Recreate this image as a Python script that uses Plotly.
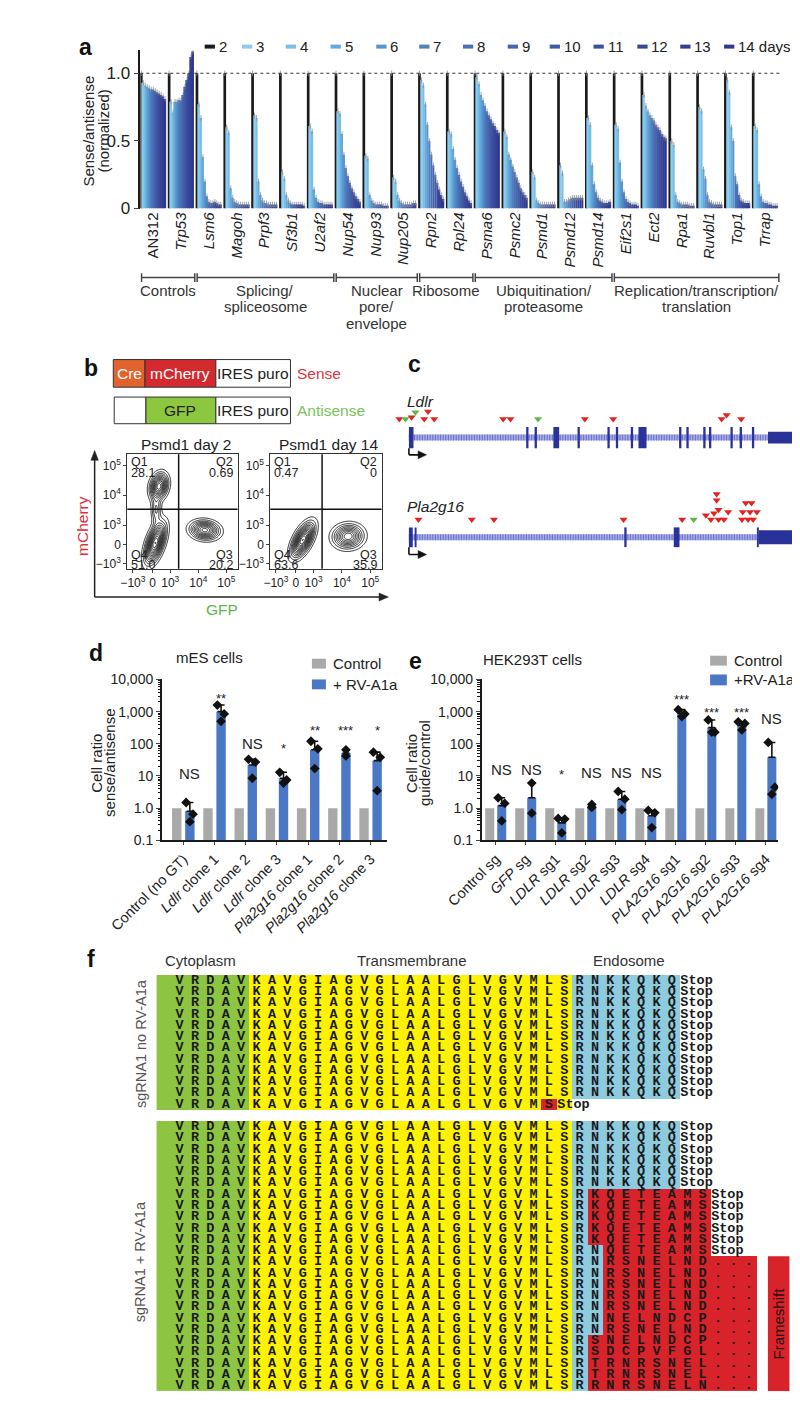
import numpy as np
import plotly.graph_objects as go

W, H = 800, 1411
def X(px): return px / W
def Y(py): return 1 - py / H

SANS = "Liberation Sans, Arial, Helvetica, sans-serif"
MONO = "Liberation Mono, Courier New, monospace"
INK = "#222222"

# ================= Panel a data =================
days_a = [2, 3, 4, 5, 6, 7, 8, 9, 10, 11, 12, 13, 14]
day_colors = ["#1a1a1a", "#8fcdee", "#76bfe9", "#62aadd", "#5894cd", "#4f80c0",
              "#4a71b6", "#4565ae", "#405aa6", "#3b4f9f", "#374699", "#333f93", "#2f388d"]
genes_a = ["AN312", "Trp53", "Lsm6", "Magoh", "Prpf3", "Sf3b1", "U2af2", "Nup54", "Nup93",
           "Nup205", "Rpn2", "Rpl24", "Psma6", "Psmc2", "Psmd1", "Psmd12", "Psmd14",
           "Eif2s1", "Ect2", "Rpa1", "Ruvbl1", "Top1", "Trrap"]
AN312  = [1.00, 0.93, 0.91, 0.90, 0.89, 0.88, 0.88, 0.87, 0.86, 0.85, 0.84, 0.83, 0.81]
Trp53  = [1.00, 0.79, 0.71, 0.79, 0.79, 0.80, 0.80, 0.84, 0.90, 0.95, 1.00, 1.12, 1.16]
Lsm6   = [1.00, 0.77, 0.67, 0.38, 0.20, 0.09, 0.05, 0.04, 0.04, 0.05, 0.04, 0.03, 0.03]
Magoh  = [1.00, 0.60, 0.56, 0.15, 0.08, 0.05, 0.04, 0.03, 0.03, 0.03, 0.03, 0.03, 0.03]
Prpf3  = [1.00, 0.69, 0.67, 0.20, 0.10, 0.06, 0.04, 0.04, 0.03, 0.03, 0.03, 0.03, 0.03]
Sf3b1  = [1.00, 0.27, 0.22, 0.10, 0.06, 0.04, 0.03, 0.03, 0.03, 0.03, 0.03, 0.03, 0.02]
U2af2  = [1.00, 0.61, 0.57, 0.14, 0.08, 0.05, 0.04, 0.04, 0.03, 0.03, 0.03, 0.03, 0.03]
Nup54  = [1.00, 0.72, 0.70, 0.55, 0.40, 0.30, 0.24, 0.19, 0.15, 0.12, 0.09, 0.07, 0.05]
Nup93  = [1.00, 0.39, 0.37, 0.10, 0.06, 0.04, 0.03, 0.03, 0.03, 0.03, 0.02, 0.02, 0.02]
Nup205 = [1.00, 0.23, 0.20, 0.10, 0.06, 0.04, 0.03, 0.03, 0.03, 0.03, 0.03, 0.04, 0.04]
Rpn2   = [1.00, 0.95, 0.91, 0.77, 0.62, 0.50, 0.40, 0.32, 0.25, 0.19, 0.14, 0.10, 0.07]
Rpl24  = [1.00, 0.57, 0.55, 0.44, 0.36, 0.30, 0.25, 0.20, 0.16, 0.12, 0.09, 0.06, 0.04]
Psma6  = [1.00, 0.97, 0.92, 0.84, 0.80, 0.76, 0.72, 0.69, 0.66, 0.63, 0.61, 0.58, 0.56]
Psmc2  = [1.00, 0.57, 0.53, 0.40, 0.36, 0.31, 0.27, 0.23, 0.19, 0.15, 0.12, 0.10, 0.08]
Psmd1  = [1.00, 0.27, 0.23, 0.06, 0.04, 0.03, 0.03, 0.03, 0.03, 0.03, 0.03, 0.03, 0.03]
Psmd12 = [1.00, 0.32, 0.26, 0.05, 0.05, 0.06, 0.07, 0.08, 0.08, 0.08, 0.08, 0.08, 0.08]
Psmd14 = [1.00, 0.67, 0.62, 0.32, 0.18, 0.12, 0.08, 0.06, 0.05, 0.04, 0.04, 0.04, 0.05]
Eif2s1 = [1.00, 0.62, 0.59, 0.34, 0.20, 0.12, 0.07, 0.05, 0.04, 0.03, 0.03, 0.03, 0.02]
Ect2   = [1.00, 0.84, 0.76, 0.72, 0.69, 0.67, 0.65, 0.62, 0.60, 0.58, 0.55, 0.53, 0.52]
Rpa1   = [1.00, 0.50, 0.47, 0.10, 0.05, 0.04, 0.03, 0.03, 0.03, 0.03, 0.02, 0.02, 0.02]
Ruvbl1 = [1.00, 0.75, 0.72, 0.29, 0.22, 0.10, 0.05, 0.04, 0.03, 0.03, 0.03, 0.03, 0.03]
Top1   = [1.00, 0.95, 0.86, 0.60, 0.50, 0.24, 0.18, 0.10, 0.06, 0.05, 0.04, 0.04, 0.04]
Trrap  = [1.00, 0.61, 0.58, 0.18, 0.09, 0.05, 0.04, 0.04, 0.03, 0.03, 0.02, 0.02, 0.02]
ratio_a = [AN312, Trp53, Lsm6, Magoh, Prpf3, Sf3b1, U2af2, Nup54, Nup93, Nup205, Rpn2, Rpl24,
           Psma6, Psmc2, Psmd1, Psmd12, Psmd14, Eif2s1, Ect2, Rpa1, Ruvbl1, Top1, Trrap]
err_a = 0.02
group_names_a = [["Controls"], ["Splicing/", "spliceosome"], ["Nuclear", "pore/", "envelope"],
                 ["Ribosome"], ["Ubiquitination/", "proteasome"], ["Replication/transcription/", "translation"]]
group_first_a = [0, 2, 7, 10, 12, 17]
group_last_a = [1, 6, 9, 11, 16, 22]

# ================= Panel b data =================
gate_x, gate_y = 3.3, 3.53
flow_tickvals = [1.67, 2.37, 3.0, 4.0, 5.0]
flow_ticktext = ["\u221210<sup>3</sup>", "0", "10<sup>3</sup>", "10<sup>4</sup>", "10<sup>5</sup>"]
q_day2 = ["28.1", "0.69", "51.0", "20.2"]    # Q1, Q2, Q4, Q3
q_day14 = ["0.47", "0", "63.6", "35.9"]
# populations (centre, spread, correlation, weight)
day2_cx = [2.60, 2.50, 2.47, 4.23]
day2_cy = [4.30, 3.50, 2.40, 2.83]
day2_sx = [0.19, 0.11, 0.22, 0.31]
day2_sy = [0.26, 0.28, 0.40, 0.19]
day2_rho = [0.20, 0.00, 0.55, -0.10]
day2_w = [1.00, 0.35, 1.20, 0.90]
day14_cx = [2.62, 4.22]
day14_cy = [2.50, 2.62]
day14_sx = [0.24, 0.32]
day14_sy = [0.34, 0.24]
day14_rho = [0.60, 0.05]
day14_w = [1.20, 0.85]

# ================= Panel c data =================
ldlr_exon_start = [0.0, 30.6, 32.8, 37.7, 44.0, 51.8, 54.0, 57.9, 59.9, 70.5, 72.4, 76.8, 78.3, 83.9, 86.3, 89.5, 93.7]
ldlr_exon_end   = [1.2, 31.2, 33.4, 39.2, 44.6, 52.4, 54.6, 58.5, 62.0, 71.1, 73.0, 77.4, 78.9, 84.5, 86.9, 90.1, 100.0]
ldlr_site_pos   = [-2.5, -0.9, 0.7, 1.7, 4.0, 5.0, 6.6, 24.6, 26.5, 33.7, 45.9, 53.3, 81.6, 82.9, 86.7]
ldlr_site_level = [0, 0, 0.25, 1, 0, 1.1, 0, 0, 0, 0, 0, 0, 0, 0.6, 0]
ldlr_site_strand = ["s", "a", "s", "a", "s", "s", "s", "s", "s", "a", "s", "s", "s", "s", "s"]
pla_exon_start = [0.0, 1.5, 56.2, 69.1, 90.8, 91.3]
pla_exon_end   = [1.0, 2.0, 56.8, 70.6, 91.3, 100.5]
pla_site_pos   = [2.5, 16.4, 22.2, 56.0, 71.3, 74.3, 77.5, 78.8, 79.6, 80.3, 80.3, 80.8, 80.8, 82.2,
                  83.3, 86.9, 87.1, 87.9, 88.5, 89.0, 89.4, 89.8, 90.8]
pla_site_level = [0, 0, 0, 0, 0, 0, 0.6, 0, 0.9, 3.7, 2.8, 1.4, 0, 0, 1.1, 0, 1.1, 2.4, 0, 1.1, 2.4, 0, 1.1]
pla_site_strand = ["s"] * 5 + ["a"] + ["s"] * 17

# ================= Panel d data =================
d_labels = ["Control (no GT)", "<i>Ldlr</i> clone 1", "<i>Ldlr</i> clone 2", "<i>Ldlr</i> clone 3",
            "<i>Pla2g16</i> clone 1", "<i>Pla2g16</i> clone 2", "<i>Pla2g16</i> clone 3"]
d_control = [1, 1, 1, 1, 1, 1, 1]
d_rv = [0.8, 1000, 22, 8.5, 65, 52, 30]
d_err_top = [1.5, 1600, 33, 13, 120, 65, 55]
d_points = [[1.5, 0.65, 0.38], [1600, 850, 500], [33, 27, 8.5], [13, 7.5, 6],
            [120, 70, 17], [65, 42], [55, 38, 3.5]]
d_sig = ["NS", "**", "NS", "*", "**", "***", "*"]

# ================= Panel e data =================
e_labels = ["Control sg", "<i>GFP</i> sg", "<i>LDLR</i> sg1", "<i>LDLR</i> sg2", "<i>LDLR</i> sg3",
            "<i>LDLR</i> sg4", "<i>PLA2G16</i> sg1", "<i>PLA2G16</i> sg2", "<i>PLA2G16</i> sg3",
            "<i>PLA2G16</i> sg4"]
e_control = [1, 1, 1, 1, 1, 1, 1, 1, 1, 1]
e_rv = [1.2, 2.1, 0.35, 1.15, 1.9, 0.58, 900, 320, 380, 38]
e_err_top = [2.1, 6, 0.48, 1.35, 3.3, 0.85, 1150, 550, 480, 110]
e_points = [[2.1, 1.4, 0.4], [6, 0.7], [0.48, 0.46, 0.17], [1.3, 1.05], [3.3, 1.9, 0.9],
            [0.85, 0.72, 0.25], [1150, 850, 700], [550, 230, 230], [480, 430, 270], [110, 4.5, 2.7]]
e_sig = ["NS", "NS", "*", "NS", "NS", "NS", "***", "***", "***", "NS"]

# ================= Panel f data =================
tm_full = "VRDAVKAVGIAGVGLAALGLVGVMLS"
rows_no_rv = [(tm_full, "RNKKQKQ", "", "Stop")] * 11 + [("VRDAVKAVGIAGVGLAALGLVGVM", "", "S", "Stop")]
rows_rv = ([(tm_full, "RNKKQKQ", "", "Stop")] * 6
           + [(tm_full, "R", "KQETEAMS", "Stop")] * 5
           + [(tm_full, "RN", "QETEAMS", "Stop")]
           + [(tm_full, "RN", "RSNELND", "...")] * 5
           + [(tm_full, "RN", "NELNDCP", "..."), (tm_full, "RN", "RSNELND", "..."),
              (tm_full, "R", "SNELNDCP", "..."), (tm_full, "R", "SDCPVFGL", "..."),
              (tm_full, "R", "TRNRSNEL", "..."), (tm_full, "R", "TRNRSNEL", "..."),
              (tm_full, "R", "RNRSNELN", "...")])

# ================= Styles =================
CTRL_COLOR = "#a9a9a9"
RV_COLOR = "#4b78c6"
GREEN_F, YELLOW_F, BLUE_F, RED_F = "#8dc442", "#fff200", "#8ecbdf", "#d8232a"

fig = go.Figure()
shapes, ann = [], []

def ptxt(px, py, s, size=15, color=INK, xa="center", ya="middle", family=SANS, angle=0):
    ann.append(dict(x=X(px), y=Y(py), xref="paper", yref="paper", text=s, showarrow=False,
                    xanchor=xa, yanchor=ya, textangle=angle,
                    font=dict(size=size, color=color, family=family)))

def prect(x0, y0, x1, y1, fill, lc="#333333", lw=1):
    shapes.append(dict(type="rect", xref="paper", yref="paper", x0=X(x0), x1=X(x1),
                       y0=Y(y1), y1=Y(y0), fillcolor=fill, line=dict(color=lc, width=lw)))

def pline(x0, y0, x1, y1, color=INK, width=1.5, dash="solid"):
    shapes.append(dict(type="line", xref="paper", yref="paper", x0=X(x0), x1=X(x1),
                       y0=Y(y0), y1=Y(y1), line=dict(color=color, width=width, dash=dash)))

def ptri(pts, color=INK):
    path = "M " + " L ".join("%f,%f" % (X(a), Y(b)) for a, b in pts) + " Z"
    shapes.append(dict(type="path", xref="paper", yref="paper", path=path, fillcolor=color,
                       line=dict(color=color, width=0.5)))

# ---------- panel labels ----------
for lab, px, py in [("a", 25, 31), ("b", 31, 357), ("c", 378, 353), ("d", 36, 645), ("e", 379, 653), ("f", 31, 955)]:
    ptxt(px, py, "<b>%s</b>" % lab, size=23, color="#111")

# ================= Panel a =================
SLOT = 14
n_genes = len(genes_a)
for k, day in enumerate(days_a):
    fig.add_trace(go.Bar(
        x=[g * SLOT + k for g in range(n_genes)],
        y=[ratio_a[g][k] for g in range(n_genes)],
        width=1.35 if k == 0 else 1.0,
        marker=dict(color=day_colors[k], line=dict(width=0)),
        error_y=dict(type="constant", value=err_a, color="#8a8a8a", thickness=0.8, width=0),
        xaxis="x", yaxis="y", hoverinfo="skip", cliponaxis=False))

a_right = n_genes * SLOT - 0.5
shapes.append(dict(type="line", xref="x", yref="y", x0=-0.5, x1=a_right, y0=1, y1=1,
                   line=dict(color="#333", width=1, dash="dot")))
for lines, g0, g1 in zip(group_names_a, group_first_a, group_last_a):
    x0 = g0 * SLOT - 0.5 + 0.6
    x1 = (g1 + 1) * SLOT - 0.5 - 0.6
    shapes.append(dict(type="line", xref="x", yref="paper", x0=x0, x1=x1, y0=Y(265), y1=Y(265),
                       line=dict(color="#444", width=1.5)))
    for xx in (x0, x1):
        shapes.append(dict(type="line", xref="x", yref="paper", x0=xx, x1=xx, y0=Y(260.5), y1=Y(269.5),
                           line=dict(color="#444", width=1.5)))
    for j, line in enumerate(lines):
        ann.append(dict(x=(x0 + x1) / 2, y=Y(278 + 16.5 * j), xref="x", yref="paper", text=line,
                        showarrow=False, xanchor="center", yanchor="middle",
                        font=dict(size=15, color="#333", family=SANS)))

ptxt(28, 117, "Sense/antisense", size=15, angle=-90)
ptxt(44, 117, "(normalized)", size=15, angle=-90)
leg_x0 = [153, 193, 240, 288, 337, 383, 430, 478, 523, 570, 617, 663, 710]
for k, day in enumerate(days_a):
    pline(leg_x0[k], 31, leg_x0[k] + 11, 31, color=day_colors[k], width=4)
    ptxt(leg_x0[k] + 13, 31, str(day) + (" days" if day == 14 else ""), size=15, xa="left")

# ================= Panel b =================
prect(55, 348, 89, 376, "#e2622d")
prect(89, 348, 165, 376, "#d42a2f")
prect(165, 348, 245, 376, "white")
ptxt(72, 362, "Cre", size=15.5, color="white")
ptxt(127, 362, "mCherry", size=15.5, color="white")
ptxt(205, 362, "IRES puro", size=15.5)
ptxt(250, 362, "Sense", size=15.5, color="#e0343e", xa="left")
prect(56, 386, 90, 413, "white")
prect(90, 386, 165, 413, "#8dc63f")
prect(165, 386, 245, 413, "white")
ptxt(127, 400, "GFP", size=15.5, color="#222")
ptxt(205, 400, "IRES puro", size=15.5)
ptxt(250, 400, "Antisense", size=15.5, color="#7bc35b", xa="left")

ptxt(133, 434, "Psmd1 day 2", size=15.5)
ptxt(286, 434, "Psmd1 day 14", size=15.5)

gx = np.linspace(1.47, 5.40, 150)
gy = np.linspace(1.53, 5.37, 150)
GX, GY = np.meshgrid(gx, gy)

def density(cx, cy, sx, sy, rho, w):
    Z = np.zeros_like(GX)
    for a, b, s1, s2, r, ww in zip(cx, cy, sx, sy, rho, w):
        dx = (GX - a) / s1
        dy = (GY - b) / s2
        q = (dx * dx - 2 * r * dx * dy + dy * dy) / (1 - r * r)
        Z += ww * np.exp(-0.5 * q)
    return Z

for (cx, cy, sx, sy, rho, w), xa_, ya_ in [
        ((day2_cx, day2_cy, day2_sx, day2_sy, day2_rho, day2_w), "x2", "y2"),
        ((day14_cx, day14_cy, day14_sx, day14_sy, day14_rho, day14_w), "x3", "y3")]:
    fig.add_trace(go.Contour(x=gx, y=gy, z=density(cx, cy, sx, sy, rho, w),
                             contours=dict(coloring="lines", start=0.09, end=1.3, size=0.085),
                             line=dict(width=0.9), colorscale=[[0, "#111"], [1, "#111"]],
                             showscale=False, hoverinfo="skip", xaxis=xa_, yaxis=ya_))
    shapes.append(dict(type="line", xref=xa_ + " domain", yref=ya_, x0=0, x1=1, y0=gate_y, y1=gate_y,
                       line=dict(color="#111", width=1.5)))
    shapes.append(dict(type="line", xref=xa_, yref=ya_ + " domain", x0=gate_x, x1=gate_x, y0=0, y1=1,
                       line=dict(color="#111", width=1.5)))

for left, right, q in [(70, 188.3, q_day2), (223.3, 342.7, q_day14)]:
    ptxt(left + 2, 452, "Q1", size=12.5, xa="left")
    ptxt(left + 2, 463, q[0], size=12.5, xa="left")
    ptxt(right - 3, 452, "Q2", size=12.5, xa="right")
    ptxt(right - 3, 463, q[1], size=12.5, xa="right")
    ptxt(left + 2, 546, "Q4", size=12.5, xa="left")
    ptxt(left + 2, 556, q[2], size=12.5, xa="left")
    ptxt(right - 3, 546, "Q3", size=12.5, xa="right")
    ptxt(right - 3, 556, q[3], size=12.5, xa="right")

pline(35, 588.5, 35, 448, width=1.5)
ptri([(35, 440), (31, 450), (39, 450)])
pline(35, 588.5, 342, 588.5, width=1.5)
ptri([(350, 588.5), (340, 584.5), (340, 592.5)])
ptxt(22, 517, "mCherry", size=15.5, color="#d9303a", angle=-90)
ptxt(172, 601, "GFP", size=15.5, color="#5bb84a")

# ================= Panel c =================
def gene_track(xa_, ya_, starts, ends, pos, level, strand, base, tall, short):
    shapes.append(dict(type="line", xref=xa_, yref=ya_, x0=0, x1=ends[-1], y0=0, y1=0,
                       line=dict(color="#a7abe6", width=6)))
    shapes.append(dict(type="line", xref=xa_, yref=ya_, x0=0, x1=ends[-1], y0=0, y1=0,
                       line=dict(color="#6a70cc", width=6, dash="1px,1.6px")))
    for i, (s, e) in enumerate(zip(starts, ends)):
        hh = short if i == len(starts) - 1 else tall
        shapes.append(dict(type="rect", xref=xa_, yref=ya_, x0=s, x1=e, y0=-hh, y1=hh,
                           fillcolor="#2a3199", line=dict(width=0)))
    shapes.append(dict(type="line", xref=xa_, yref=ya_, x0=0, x1=0, y0=-tall, y1=-17.5,
                       line=dict(color="#111", width=1.6)))
    shapes.append(dict(type="line", xref=xa_, yref=ya_, x0=0, x1=2.8, y0=-17.5, y1=-17.5,
                       line=dict(color="#111", width=1.6)))
    shapes.append(dict(type="path", xref=xa_, yref=ya_,
                       path="M 4.6,-17.5 L 2.4,-13.5 L 2.4,-21.5 Z",
                       fillcolor="#111", line=dict(color="#111", width=0.5)))
    for st, col in [("s", "#e3231f"), ("a", "#5cb848")]:
        xs = [p for p, t in zip(pos, strand) if t == st]
        ys = [base + 7 * l for l, t in zip(level, strand) if t == st]
        fig.add_trace(go.Scatter(x=xs, y=ys, mode="markers", xaxis=xa_, yaxis=ya_, hoverinfo="skip",
                                 marker=dict(symbol="triangle-down", size=7, color=col, line=dict(width=0))))

gene_track("x4", "y4", ldlr_exon_start, ldlr_exon_end, ldlr_site_pos, ldlr_site_level,
           ldlr_site_strand, 18.7, 10.8, 6.0)
gene_track("x5", "y5", pla_exon_start, pla_exon_end, pla_site_pos, pla_site_level,
           pla_site_strand, 18.0, 10.0, 7.0)
ptxt(368, 390, "<i>Ldlr</i>", size=15.5, xa="left")
ptxt(368, 497, "<i>Pla2g16</i>", size=15.5, xa="left")

# ================= Panels d and e =================
JIT3 = [-0.12, 0.10, 0.0]
JIT2 = [0.0, 0.0]

def bar_panel(xa_, ya_, ctrl, rv, errtop, pts, sig, sig_y, off):
    n = len(rv)
    fig.add_trace(go.Bar(x=[i - off for i in range(n)], y=ctrl, width=0.3, marker=dict(color=CTRL_COLOR, line=dict(width=0)),
                         xaxis=xa_, yaxis=ya_, hoverinfo="skip"))
    fig.add_trace(go.Bar(x=[i + off for i in range(n)], y=rv, width=0.3, marker=dict(color=RV_COLOR, line=dict(width=0)),
                         error_y=dict(type="data", symmetric=False, array=[t - v for t, v in zip(errtop, rv)],
                                      arrayminus=[0] * n, color="#111", thickness=1.6, width=3.5),
                         xaxis=xa_, yaxis=ya_, hoverinfo="skip"))
    px_, py_ = [], []
    for i, p in enumerate(pts):
        jit = JIT3 if len(p) == 3 else JIT2
        for j, v in enumerate(p):
            px_.append(i + off + jit[j])
            py_.append(v)
    fig.add_trace(go.Scatter(x=px_, y=py_, mode="markers", xaxis=xa_, yaxis=ya_, hoverinfo="skip",
                             marker=dict(symbol="diamond", size=7.5, color="#111", line=dict(width=0))))
    for i, (s, yv) in enumerate(zip(sig, sig_y)):
        ann.append(dict(x=i + off, y=np.log10(yv), xref=xa_, yref=ya_, text=s, showarrow=False,
                        xanchor="center", yanchor="middle",
                        font=dict(size=15 if s == "NS" else 13, color=INK, family=SANS)))

d_sig_y = [12, 2500, 105, 74, 265, 265, 265]
e_sig_y = [15.8, 15.8, 11, 12.7, 12.7, 12.7, 2350, 950, 950, 590]
bar_panel("x6", "y6", d_control, d_rv, d_err_top, d_points, d_sig, d_sig_y, 0.21)
bar_panel("x7", "y7", e_control, e_rv, e_err_top, e_points, e_sig, e_sig_y, 0.20)

ptxt(158, 650, "mES cells", size=15)
ptxt(505, 652, "HEK293T cells", size=15)
ptxt(37, 757, "Cell ratio", size=15, angle=-90)
ptxt(51, 757, "sense/antisense", size=15, angle=-90)
ptxt(375, 757, "Cell ratio", size=15, angle=-90)
ptxt(389, 757, "guide/control", size=15, angle=-90)
prect(268, 651, 283, 661, CTRL_COLOR, lc=CTRL_COLOR, lw=0)
prect(268, 672, 283, 682, RV_COLOR, lc=RV_COLOR, lw=0)
ptxt(289, 656, "Control", size=15, xa="left")
ptxt(289, 677, "+ RV-A1a", size=15, xa="left")
prect(695, 648, 713, 658, CTRL_COLOR, lc=CTRL_COLOR, lw=0)
prect(695, 667, 713, 678, RV_COLOR, lc=RV_COLOR, lw=0)
ptxt(719, 653, "Control", size=15, xa="left")
ptxt(719, 672, "+RV-A1a", size=15, xa="left")

# ================= Panel f =================
cols_f = list(range(-1, 40))
n_rows_f = len(rows_no_rv) + 1 + len(rows_rv)
z_f = [[0] * len(cols_f) for _ in range(n_rows_f)]
lx, ly, lt = [], [], []
sx_, sy_ = [], []
frame_rows = []
all_rows = [(i, r) for i, r in enumerate(rows_no_rv)] + \
           [(len(rows_no_rv) + 1 + i, r) for i, r in enumerate(rows_rv)]
for idx, (tm, endo, mut, tail) in all_rows:
    for c in range(-1, 5):
        z_f[idx][c + 1] = 1
    for c in range(5, len(tm_full)):
        z_f[idx][c + 1] = 2
    pos = 0
    for ch in tm:
        lx.append(pos); ly.append(idx); lt.append(ch); pos += 1
    for ch in endo:
        z_f[idx][pos + 1] = 3
        lx.append(pos); ly.append(idx); lt.append(ch); pos += 1
    for ch in mut:
        z_f[idx][pos + 1] = 4
        lx.append(pos); ly.append(idx); lt.append(ch); pos += 1
    if tail == "...":
        frame_rows.append(idx)
        for k in range(3):
            z_f[idx][pos + 1] = 4
            lx.append(pos); ly.append(idx); lt.append("."); pos += 1
    else:
        sx_.append(pos - 0.45); sy_.append(idx)

cs_f = [[0, "white"], [0.2, "white"], [0.2, GREEN_F], [0.4, GREEN_F], [0.4, YELLOW_F], [0.6, YELLOW_F],
        [0.6, BLUE_F], [0.8, BLUE_F], [0.8, RED_F], [1, RED_F]]
fig.add_trace(go.Heatmap(z=z_f, x=cols_f, y=list(range(n_rows_f)), colorscale=cs_f, zmin=-0.5, zmax=4.5,
                         showscale=False, hoverinfo="skip", xaxis="x8", yaxis="y8"))
fig.add_trace(go.Scatter(x=lx, y=ly, text=lt, mode="text", xaxis="x8", yaxis="y8", hoverinfo="skip",
                         textfont=dict(family=MONO, size=13.5, color="#1a1a1a", weight="bold")))
fig.add_trace(go.Scatter(x=sx_, y=sy_, text=["Stop"] * len(sx_), mode="text", textposition="middle right",
                         xaxis="x8", yaxis="y8", hoverinfo="skip",
                         textfont=dict(family=MONO, size=13.5, color="#1a1a1a", weight="bold")))
fy0, fy1 = min(frame_rows) - 0.5, max(frame_rows) + 0.5
shapes.append(dict(type="rect", xref="x8", yref="y8", x0=38.24, x1=39.64, y0=fy0, y1=fy1,
                   fillcolor=RED_F, line=dict(width=0)))
ann.append(dict(x=38.94, y=(fy0 + fy1) / 2, xref="x8", yref="y8", text="Frameshift", showarrow=False,
                textangle=-90, font=dict(size=15, color="#2a1010", family=SANS)))
ptxt(148, 957, "Cytoplasm", size=15, color="#333")
ptxt(375, 957, "Transmembrane", size=15, color="#333")
ptxt(608, 957, "Endosome", size=15, color="#333")
ptxt(84, 1041, "sgRNA1 no RV-A1a", size=14.5, color="#555", angle=-90)
ptxt(84, 1262, "sgRNA1 + RV-A1a", size=14.5, color="#555", angle=-90)

# ================= Axes =================
off = dict(showgrid=False, zeroline=False)
flow_x = dict(range=[1.47, 5.40], tickmode="array", tickvals=flow_tickvals, ticktext=flow_ticktext,
              ticks="outside", ticklen=3, showline=True, mirror=True, linecolor="#333", linewidth=1,
              tickfont=dict(size=12), **off)
flow_y = dict(range=[1.53, 5.37], tickmode="array", tickvals=[1.70, 2.35, 3.0, 4.0, 5.0], ticktext=flow_ticktext,
              ticks="outside", ticklen=3, showline=True, mirror=True, linecolor="#333", linewidth=1,
              tickfont=dict(size=12), **off)
minor_vals = [m * 10.0 ** e for e in range(-1, 4) for m in range(2, 10)]
log_y = dict(type="log", range=[-1, 4], tickmode="array", tickvals=[0.1, 1, 10, 100, 1000, 10000],
             ticktext=["0.1", "1.0", "10", "100", "1,000", "10,000"], ticks="outside", ticklen=4,
             showline=True, linewidth=1.5, linecolor="#1a1a1a", tickfont=dict(size=14),
             minor=dict(tickmode="array", tickvals=minor_vals, ticks="outside", ticklen=2.5,
                        tickcolor="#1a1a1a", showgrid=False), **off)
cat_x = dict(tickmode="array", ticks="outside", ticklen=3, tickangle=-45, showline=True, linewidth=1.5,
             linecolor="#1a1a1a", tickfont=dict(size=14.5), **off)

fig.update_layout(
    width=W, height=H, margin=dict(l=0, r=0, t=0, b=0), paper_bgcolor="white", plot_bgcolor="white",
    showlegend=False, barmode="overlay", font=dict(family=SANS, color=INK),
    xaxis=dict(domain=[X(84), X(770)], range=[-0.5, a_right], tickmode="array",
               tickvals=[g * SLOT + 6 for g in range(n_genes)],
               ticktext=[genes_a[0]] + ["<i>%s</i>" % g for g in genes_a[1:]],
               tickangle=-90, ticks="", showline=False, tickfont=dict(size=15), anchor="y", **off),
    yaxis=dict(domain=[Y(195), Y(34.7)], range=[0, 1.17], tickmode="array", tickvals=[0, 0.5, 1],
               ticktext=["0", "0.5", "1.0"], ticks="outside", ticklen=5, showline=True, linewidth=1.5,
               linecolor="#1a1a1a", tickfont=dict(size=17), anchor="x", **off),
    xaxis2=dict(domain=[X(70), X(188.3)], anchor="y2", **flow_x),
    yaxis2=dict(domain=[Y(560), Y(444)], anchor="x2", **flow_y),
    xaxis3=dict(domain=[X(223.3), X(342.7)], anchor="y3", **flow_x),
    yaxis3=dict(domain=[Y(560), Y(444)], anchor="x3", **flow_y),
    xaxis4=dict(domain=[X(355), X(790)], range=[-4.14, 101.7], visible=False, anchor="y4"),
    yaxis4=dict(domain=[Y(450), Y(395)], range=[-23, 32], visible=False, anchor="x4"),
    xaxis5=dict(domain=[X(355), X(790)], range=[-4.14, 101.7], visible=False, anchor="y5"),
    yaxis5=dict(domain=[Y(550), Y(478)], range=[-22, 50], visible=False, anchor="x5"),
    xaxis6=dict(domain=[X(107), X(349)], range=[-0.69, 6.54], tickvals=[i + 0.0 for i in range(len(d_labels))],
                ticktext=d_labels, anchor="y6", **cat_x),
    yaxis6=dict(domain=[Y(835), Y(672)], anchor="x6", **log_y),
    xaxis7=dict(domain=[X(450), X(768)], range=[-0.47, 9.41], tickvals=[i + 0.0 for i in range(len(e_labels))],
                ticktext=e_labels, anchor="y7", **cat_x),
    yaxis7=dict(domain=[Y(835), Y(672)], anchor="x7", **log_y),
    xaxis8=dict(domain=[X(100.6), X(790)], range=[-1.55, 40.24], visible=False, anchor="y8"),
    yaxis8=dict(domain=[Y(1393.1), Y(971.3)], range=[n_rows_f - 0.5, -0.5], visible=False, anchor="x8"),
    shapes=shapes, annotations=ann,
)

fig.write_html("out.html")
